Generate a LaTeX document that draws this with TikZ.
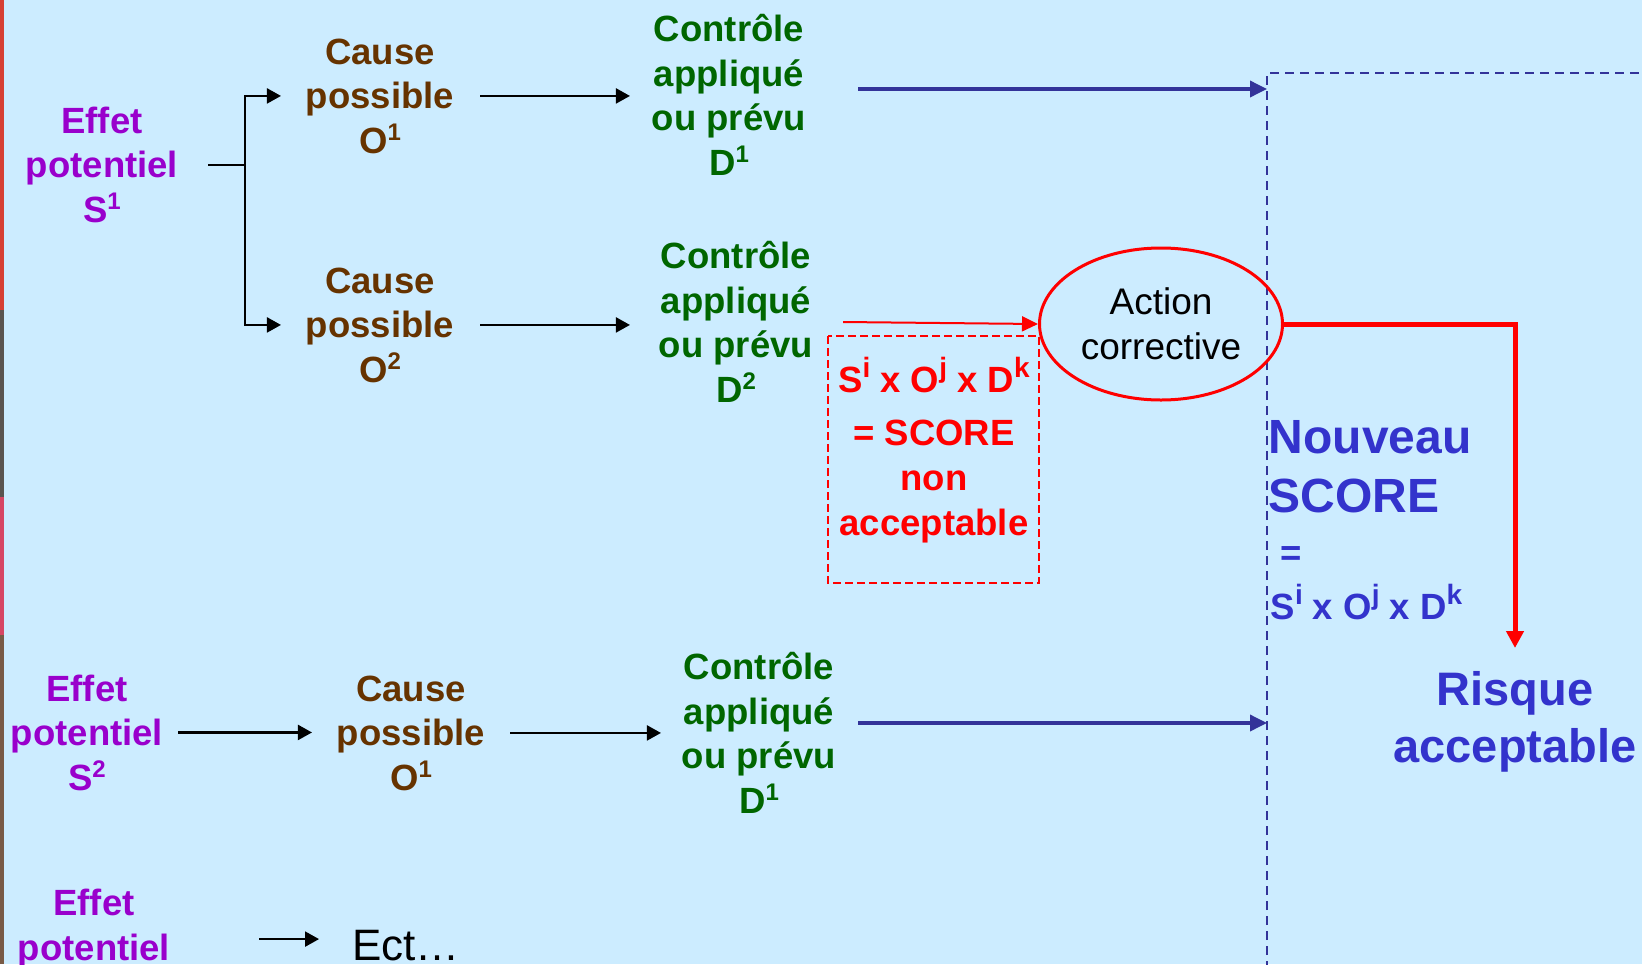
\documentclass[tikz,border=0pt]{standalone}
\usepackage{fontspec}
\setmainfont{Liberation Sans}
\usetikzlibrary{arrows.meta,shapes.geometric}
\definecolor{bgc}{RGB}{204,236,255}
\definecolor{effc}{RGB}{153,0,204}
\definecolor{causec}{RGB}{102,51,0}
\definecolor{ctrlc}{RGB}{0,102,0}
\definecolor{bluet}{RGB}{51,51,204}
\definecolor{bluea}{RGB}{51,51,153}
\definecolor{redc}{RGB}{255,0,0}
\definecolor{stripa}{RGB}{214,64,52}
\definecolor{stripb}{RGB}{90,84,80}
\definecolor{stripc}{RGB}{214,70,100}
\definecolor{stripd}{RGB}{120,90,70}
\newcommand\sx[1]{\raisebox{13bp}{\fontsize{24bp}{24bp}\selectfont #1}}
\newcommand\sxb[1]{\raisebox{15bp}{\fontsize{28bp}{28bp}\selectfont #1}}
\begin{document}
\begin{tikzpicture}[x=1bp,y=-1bp,
  lbl/.style={inner sep=0pt, outer sep=0pt, align=center, anchor=base,
    font=\bfseries\fontsize{36.5bp}{44.5bp}\selectfont},
  effet/.style={lbl,text=effc},
  cause/.style={lbl,text=causec},
  ctrl/.style={lbl,text=ctrlc},
  blk/.style={draw=black, line width=2.2bp},
  blkarr/.style={blk, -{Triangle[length=14bp,width=15bp]}},
  bluearr/.style={draw=bluea, line width=3.5bp, -{Triangle[length=17bp,width=16bp]}},
  redarr/.style={draw=redc, line width=2bp, -{Triangle[length=16bp,width=15bp]}},
  redthick/.style={draw=redc, line width=5bp, -{Triangle[length=17bp,width=17bp]}},
  bluedash/.style={draw=bluea, line width=2bp, dash pattern=on 9bp off 6bp},
  reddash/.style={draw=redc, line width=1.5bp, dash pattern=on 8bp off 4bp},
]
\useasboundingbox (0,0) rectangle (1642,964);
\fill[bgc] (0,0) rectangle (1642,964);
% left strip
\fill[stripa] (0,0) rectangle (4,310);
\fill[stripb] (0,310) rectangle (4,497);
\fill[stripc] (0,497) rectangle (4,635);
\fill[stripd] (0,635) rectangle (4,964);

% dashed frame on the right
\coordinate (fb) at (1267,970);
\coordinate (fc) at (1267,73);
\coordinate (fr) at (1650,73);
\draw[bluedash] (fb) -- (fc) -- (fr);

% row 1 (anchor = baseline of the last line)
\node[effet] (effet1) at (102,222) {Effet\\potentiel\\S\sx{1}};
\node[cause] (cause1) at (380,153) {Cause\\possible\\O\sx{1}};
\node[ctrl] (ctrl1) at (729,175) {Contrôle\\appliqué\\ou prévu\\D\sx{1}};
% row 2
\node[cause] (cause2) at (380,382) {Cause\\possible\\O\sx{2}};
\node[ctrl] (ctrl2) at (736,402) {Contrôle\\appliqué\\ou prévu\\D\sx{2}};
% row 3
\node[effet] (effet2) at (87,790) {Effet\\potentiel\\S\sx{2}};
\node[cause] (cause3) at (411,790) {Cause\\possible\\O\sx{1}};
\node[ctrl] (ctrl3) at (759,813) {Contrôle\\appliqué\\ou prévu\\D\sx{1}};
% row 4
\node[effet] (effet4) at (94,960) {Effet\\potentiel};
\node[inner sep=0pt, anchor=base, font=\fontsize{44bp}{50bp}\selectfont] (etc) at (406,960) {Ect…};

% score box
\node[lbl, text=redc, font=\bfseries\fontsize{36.5bp}{45bp}\selectfont] (score) at (934,535)
  {S\sxb{i} x O\sxb{j} x D\sxb{k}\\[8bp]= SCORE\\non\\acceptable};
\coordinate (rb1) at (828,336);
\coordinate (rb2) at (1039,583);
\draw[reddash] (rb1) rectangle (rb2);

% action corrective
\node[ellipse, draw=redc, line width=3bp, minimum width=243bp, minimum height=152bp,
  inner sep=0pt, align=center, font=\fontsize{37bp}{45bp}\selectfont] (act) at (1161,324)
  {Action\\corrective};

% nouveau score
\node[inner sep=0pt, anchor=base west, align=left, text=bluet,
  font=\bfseries\fontsize{48bp}{59bp}\selectfont] (nouv) at (1268.5,512) {Nouveau\\SCORE};
\node[inner sep=0pt, anchor=base west, align=left, text=bluet,
  font=\bfseries\fontsize{36.5bp}{54bp}\selectfont] (nform) at (1270.5,619)
  {\hspace*{10bp}=\\S\sxb{i} x O\sxb{j} x D\sxb{k}};
\node[lbl, text=bluet, font=\bfseries\fontsize{47bp}{57bp}\selectfont] (risk) at (1515,762)
  {Risque\\acceptable};

% connectors
\coordinate (br) at (245,165);
\draw[blk] ([xshift=30bp]effet1.east |- br) -- (br);
\draw[blkarr] (br) |- ([xshift=-25bp]cause1.west);
\draw[blkarr] (br) |- ([xshift=-25bp]cause2.west);
\draw[blkarr, shorten <=26bp, shorten >=22bp] (cause1.east) -- (cause1.east -| ctrl1.west);
\draw[blkarr, shorten <=26bp, shorten >=29bp] (cause2.east) -- (cause2.east -| ctrl2.west);
\draw[blkarr, shorten <=15bp, shorten >=25bp] (effet2.east) -- (effet2.east -| cause3.west);
\draw[blkarr, shorten <=25bp, shorten >=21bp] (cause3.east) -- (cause3.east -| ctrl3.west);
\draw[blkarr] ([xshift=-93bp,yshift=6bp]etc.west) -- ([xshift=-33bp,yshift=6bp]etc.west);

\coordinate (b1s) at (858,89);
\coordinate (b1e) at (1267,89);
\draw[bluearr] (b1s) -- (b1e);
\coordinate (b3s) at (858,723);
\coordinate (b3e) at (1267,723);
\draw[bluearr] (b3s) -- (b3e);

\coordinate (rs) at (843,322);
\draw[redarr] (rs) -- (act.west);
\coordinate (rtip) at (1515,648);
\draw[redthick] (act.east) -| (rtip);
\end{tikzpicture}
\end{document}
